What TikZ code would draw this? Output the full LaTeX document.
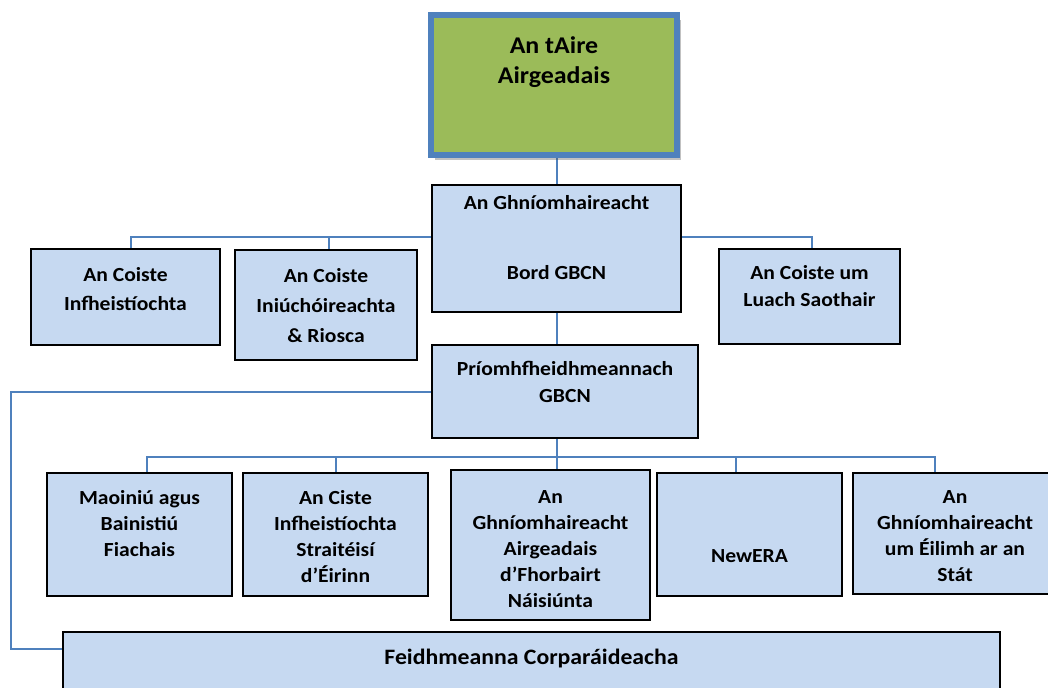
\documentclass[tikz,border=0pt]{standalone}
\usepackage{fontspec}
\setmainfont{Carlito}[FakeStretch=1.08]
\usetikzlibrary{shadows}
\definecolor{boxblue}{RGB}{198,217,241}
\definecolor{mingreen}{RGB}{155,187,89}
\definecolor{linkblue}{RGB}{79,129,189}
\pgfdeclarelayer{bg}
\pgfsetlayers{bg,main}
\tikzset{
  obox/.style={draw=black, line width=2.4bp, fill=boxblue, inner sep=0pt, rectangle},
  topbox/.style={draw=linkblue, line width=6bp, fill=mingreen, inner sep=0pt, rectangle,
    drop shadow={shadow xshift=4bp, shadow yshift=-5bp, opacity=0.35, fill=black!70}},
  conn/.style={draw=linkblue, line width=2bp},
  btext/.style={align=center, inner sep=0pt, text=black},
}
\newcommand\mkbox[6][obox]{\node[#1, minimum width=#5 bp, minimum height=#6 bp] (#2) at (#3,#4) {};}
\newcommand\lbl[6]{\node[btext, font=\fontsize{#4bp}{#5bp}\selectfont\bfseries, anchor=north] (#1) at (#2,{#3-0.7*#5}) {\strut #6};}
\begin{document}
\begin{tikzpicture}[x=1bp,y=-1bp]
\useasboundingbox (0,0) rectangle (1048,688);
\clip (0,0) rectangle (1048,688);
% boxes
\mkbox[topbox]{top}{554}{85}{246}{140}
\mkbox{bord}{556.5}{248.5}{249}{127}
\mkbox{coisteInf}{125.5}{297}{189}{96}
\mkbox{coisteIniuch}{326}{305}{182}{110}
\mkbox{luach}{809.5}{296.5}{181}{95}
\mkbox{ceo}{565}{391.5}{266}{93}
\mkbox{maoiniu}{139.5}{534.5}{185}{123}
\mkbox{ciste}{335.5}{534.5}{185}{123}
\mkbox{gniomh}{550.5}{545}{199}{150}
\mkbox{newera}{749.5}{534.5}{185}{123}
\mkbox{eilimh}{955}{533.5}{204}{121}
\mkbox{feidh}{531.5}{666}{937}{68}
% labels
\lbl{topt}{554}{53}{24}{30}{An tAire\\Airgeadais}
\lbl{bordt}{556.5}{209}{20}{35}{An Ghníomhaireacht\\[35bp]Bord GBCN}
\lbl{coisteInft}{125.5}{281}{20}{29}{An Coiste\\Infheistíochta}
\lbl{coisteIniucht}{326}{282}{20}{30}{An Coiste\\Iniúchóireachta\\\& Riosca}
\lbl{luacht}{809.5}{279}{20}{27}{An Coiste um\\Luach Saothair}
\lbl{ceot}{565}{375}{20}{27}{Príomhfheidhmeannach\\GBCN}
\lbl{maoiniut}{139.5}{504}{20}{26}{Maoiniú agus\\Bainistiú\\Fiachais}
\lbl{cistet}{335.5}{504}{20}{26}{An Ciste\\Infheistíochta\\Straitéisí\\d’Éirinn}
\lbl{gniomht}{550.5}{503}{20}{26}{An\\Ghníomhaireacht\\Airgeadais\\d’Fhorbairt\\Náisiúnta}
\lbl{newerat}{749.5}{562}{20}{26}{NewERA}
\lbl{eilimht}{955}{503}{20}{26}{An\\Ghníomhaireacht\\um Éilimh ar an\\Stát}
\lbl{feidht}{531.5}{664}{22}{26}{Feidhmeanna Corparáideacha}
% connectors
\coordinate (trunk) at (556.5,0);
\coordinate (barL) at (0,237);
\coordinate (barB) at (0,457);
\coordinate (loopx) at (11,0);
\coordinate (tIniuch) at ([xshift=3bp]coisteIniuch.north);
\coordinate (fIn) at ([yshift=17bp]feidh.west);
\coordinate (t1) at ([xshift=7.5bp]maoiniu.north);
\coordinate (t4) at ([xshift=-13.5bp]newera.north);
\coordinate (t5) at ([xshift=-20bp]eilimh.north);
\begin{pgfonlayer}{bg}
\draw[conn] (top.south -| trunk) -- (bord.north -| trunk);
\draw[conn] ([yshift=11.5bp]bord.west) -| ([xshift=5.5bp]coisteInf.north);
\draw[conn] (tIniuch) -- (tIniuch |- barL);
\draw[conn] ([yshift=11.5bp]bord.east) -| ([xshift=2.5bp]luach.north);
\draw[conn] (bord.south -| trunk) -- (ceo.north -| trunk);
\draw[conn] (ceo.west) -| (loopx |- fIn) -- (fIn);
\draw[conn] (ceo.south -| trunk) -- (gniomh.north -| trunk);
\draw[conn] (t1) |- (t5 |- barB) -- (t5);
\draw[conn] (ciste.north) -- (ciste.north |- barB);
\draw[conn] (t4) -- (t4 |- barB);
\end{pgfonlayer}
\end{tikzpicture}
\end{document}
